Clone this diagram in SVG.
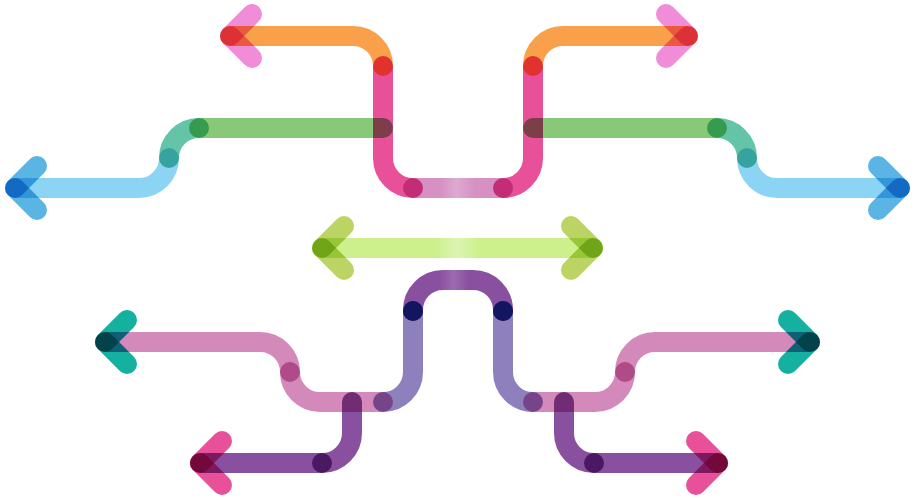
<svg xmlns="http://www.w3.org/2000/svg" width="915" height="500" viewBox="0 0 915 500">
<style>
.s{fill:none;stroke-width:20;stroke-linecap:round;stroke-linejoin:round;mix-blend-mode:multiply}
.orange{stroke:#f9a04b}.pink{stroke:#e8509a}.orchid{stroke:#f08cd8}
.green{stroke:#88c878}.teal{stroke:#64c4a8}.sky{stroke:#8cd4f4}.blue{stroke:#5ab4e4}
.limeh{stroke:#bcd464}.lav{stroke:#8e80bc}.mauve{stroke:#d38aba}.tealh{stroke:#14b0a0}
.purple{stroke:#8a50a0}
.dot{fill:#121660}
</style>
<defs>
<linearGradient id="gMauve" gradientUnits="userSpaceOnUse" x1="413" y1="0" x2="503" y2="0">
<stop offset="0" stop-color="#d690c2"/><stop offset="0.3" stop-color="#d690c2"/><stop offset="0.48" stop-color="#dcaad0"/><stop offset="0.7" stop-color="#d690c2"/><stop offset="1" stop-color="#d690c2"/>
</linearGradient>
<linearGradient id="gLime" gradientUnits="userSpaceOnUse" x1="322" y1="0" x2="593" y2="0">
<stop offset="0" stop-color="#cdf08c"/><stop offset="0.42" stop-color="#cdf08c"/><stop offset="0.5" stop-color="#dcf5b2"/><stop offset="0.58" stop-color="#cdf08c"/><stop offset="1" stop-color="#cdf08c"/>
</linearGradient>
<linearGradient id="gArch" gradientUnits="userSpaceOnUse" x1="413" y1="0" x2="503" y2="0">
<stop offset="0" stop-color="#8a50a0"/><stop offset="0.3" stop-color="#8a50a0"/><stop offset="0.45" stop-color="#9c6cb0"/><stop offset="0.62" stop-color="#8a50a0"/><stop offset="1" stop-color="#8a50a0"/>
</linearGradient>
</defs>
<rect width="915" height="500" fill="#ffffff"/>
<g id="top-u">
<path class="s orange" d="M230,36 H353 A30,30 0 0 1 383,66"/>
<path class="s pink" d="M383,66 V158 A30,30 0 0 0 413,188"/>
<path class="s" stroke="url(#gMauve)" d="M413,188 H503"/>
<path class="s pink" d="M503,188 A30,30 0 0 0 533,158 V66"/>
<path class="s orange" d="M533,66 A30,30 0 0 1 563,36 H688"/>
<path class="s orchid" d="M252,14 L230,36"/>
<path class="s orchid" d="M230,36 L252,58"/>
<path class="s orchid" d="M666,14 L688,36"/>
<path class="s orchid" d="M688,36 L666,58"/>
</g>
<g id="left-blue">
<path class="s green" d="M383,128 H199"/>
<path class="s teal" d="M199,128 A30,30 0 0 0 169,158"/>
<path class="s sky" d="M169,158 A30,30 0 0 1 139,188 H15"/>
<path class="s blue" d="M37,166 L15,188"/>
<path class="s blue" d="M15,188 L37,210"/>
</g>
<g id="right-blue">
<path class="s green" d="M533,128 H717"/>
<path class="s teal" d="M717,128 A30,30 0 0 1 747,158"/>
<path class="s sky" d="M747,158 A30,30 0 0 0 777,188 H900"/>
<path class="s blue" d="M878,166 L900,188"/>
<path class="s blue" d="M900,188 L878,210"/>
</g>
<g id="lime">
<path class="s" stroke="url(#gLime)" d="M322,248 H593"/>
<path class="s limeh" d="M344,226 L322,248"/>
<path class="s limeh" d="M322,248 L344,270"/>
<path class="s limeh" d="M571,226 L593,248"/>
<path class="s limeh" d="M593,248 L571,270"/>
</g>
<g id="arch">
<path class="s" stroke="url(#gArch)" d="M413,311 V310 A30,30 0 0 1 443,280 H473 A30,30 0 0 1 503,310 V311"/>
<path class="s lav" d="M413,311 V372 A30,30 0 0 1 383,402"/>
<path class="s lav" d="M503,311 V372 A30,30 0 0 0 533,402"/>
</g>
<g id="left-teal">
<path class="s mauve" d="M383,402 H320 A30,30 0 0 1 290,372"/>
<path class="s mauve" d="M290,372 A30,30 0 0 0 260,342 H105"/>
<path class="s tealh" d="M127,320 L105,342"/>
<path class="s tealh" d="M105,342 L127,364"/>
</g>
<g id="right-teal">
<path class="s mauve" d="M533,402 H595 A30,30 0 0 0 625,372"/>
<path class="s mauve" d="M625,372 A30,30 0 0 1 655,342 H810"/>
<path class="s tealh" d="M788,320 L810,342"/>
<path class="s tealh" d="M810,342 L788,364"/>
</g>
<g id="left-purple">
<path class="s purple" d="M352,402 V433 A30,30 0 0 1 322,463"/>
<path class="s purple" d="M322,463 H200"/>
<path class="s pink" d="M222,441 L200,463"/>
<path class="s pink" d="M200,463 L222,485"/>
</g>
<g id="right-purple">
<path class="s purple" d="M564,402 V433 A30,30 0 0 0 594,463"/>
<path class="s purple" d="M594,463 H718"/>
<path class="s pink" d="M696,441 L718,463"/>
<path class="s pink" d="M718,463 L696,485"/>
</g>
<g id="arch-dots">
<circle class="dot" cx="413" cy="311" r="10"/>
<circle class="dot" cx="503" cy="311" r="10"/>
</g>
</svg>
